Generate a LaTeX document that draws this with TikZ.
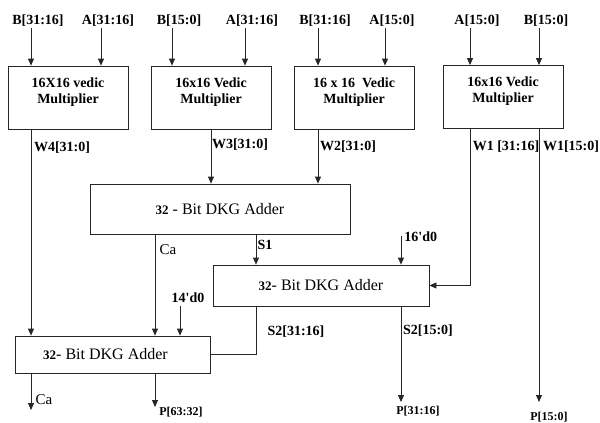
\documentclass[tikz,border=0pt]{standalone}
\usepackage{fontspec}
\setmainfont{Liberation Serif}
\usetikzlibrary{positioning,arrows.meta}

\begin{document}
\begin{tikzpicture}[x=1pt,y=-1pt,line width=0.8pt,
    sig/.style={draw=black!85,-{Triangle[length=7pt,width=6pt]}},
    wire/.style={draw=black!85},
    mult/.style={draw=black!85,minimum width=120pt,minimum height=63pt,align=center,
        font=\bfseries\fontsize{14}{16}\selectfont},
    adder/.style={draw=black!85,font=\fontsize{16}{18}\selectfont},
    lbl/.style={font=\bfseries\fontsize{14}{16}\selectfont,inner sep=1pt},
    olbl/.style={font=\bfseries\fontsize{12}{14}\selectfont,inner sep=1pt},
    clbl/.style={font=\fontsize{15}{17}\selectfont,inner sep=1pt}]
    \useasboundingbox (0,0) rectangle (600,423);

    % Vedic multipliers
    \node[mult] (m4) at (68,97.5) {16X16 vedic\\Multiplier\\[-3pt]};
    \node[mult] (m3) at (211,97.5) {16x16 Vedic\\Multiplier\\[-3pt]};
    \node[mult] (m2) at (354,97.5) {16 x 16\ \ Vedic\\Multiplier\\[-3pt]};
    \node[mult] (m1) at (503,97) {16x16 Vedic\\Multiplier\\[-1pt]};

    % DKG adders
    \node[adder,minimum width=260pt,minimum height=50pt] (add1) at (220,209)
        {{\bfseries\fontsize{13}{15}\selectfont 32} - Bit DKG Adder};
    \node[adder,minimum width=216pt,minimum height=41pt] (add2) at (321,285.5)
        {{\bfseries\fontsize{13}{15}\selectfont 32}- Bit DKG Adder};
    \node[adder,minimum width=195pt,minimum height=37pt] (add3) at (112.5,354.5)
        {{\bfseries\fontsize{13}{15}\selectfont 32}- Bit DKG Adder\hspace*{14pt}};

    % operand inputs
    \foreach \x/\t/\m [count=\i] in {31/B[31:16]/m4, 101/A[31:16]/m4,
        172/B[15:0]/m3, 245/A[31:16]/m3, 318/B[31:16]/m2, 385/A[15:0]/m2,
        470/A[15:0]/m1, 539/B[15:0]/m1} {
        \coordinate (t\i) at (\x,28);
        \node[lbl] (in\i) at (\x+7,21) {\t};
        \draw[sig] (t\i) -- (t\i |- \m.north);
    }

    \coordinate (c1) at (155,250);
    \coordinate (c2) at (256,250);
    \coordinate (c3) at (401,236);
    \coordinate (c4) at (180,306);
    \coordinate (e1) at (31,410);
    \coordinate (e2) at (155,407);
    \coordinate (e3) at (401,402);
    \coordinate (e4) at (539,402);

    % partial products
    \draw[sig] (t1 |- m4.south) -- (t1 |- add3.north);
    \draw[sig] (m3.south) -- (m3.south |- add1.north);
    \draw[sig] (t5 |- m2.south) -- (t5 |- add1.north);
    \draw[sig] (t7 |- m1.south) |- (add2.east);
    \draw[sig] (t8 |- m1.south) -- (e4);

    % adder chain
    \draw[sig] (c1 |- add1.south) -- (c1 |- add3.north);
    \draw[sig] (c2 |- add1.south) -- (c2 |- add2.north);
    \draw[sig] (c3) -- (c3 |- add2.north);
    \draw[sig] (c4) -- (c4 |- add3.north);
    \draw[wire] (c2 |- add2.south) |- (add3.east);
    \draw[sig] (c3 |- add2.south) -- (e3);
    \draw[sig] (t1 |- add3.south) -- (e1);
    \draw[sig] (c1 |- add3.south) -- (e2);

    % signal names
    \node[lbl] (lw4) at (62,148) {W4[31:0]};
    \node[lbl] (lw3) at (240,145) {W3[31:0]};
    \node[lbl] (lw2) at (348,147) {W2[31:0]};
    \node[lbl] (lw1h) at (506,147) {W1 [31:16]};
    \node[lbl] (lw1l) at (571,147) {W1[15:0]};
    \node[clbl] (lca) at (168,250) {Ca};
    \node[lbl] (ls1) at (265,245) {S1};
    \node[lbl,anchor=west] (l16) at (403,237) {16\textquotesingle d0};
    \node[lbl] (l14) at (188,298) {14\textquotesingle d0};
    \node[lbl] (ls2h) at (296,332) {S2[31:16]};
    \node[lbl] (ls2l) at (428,331) {S2[15:0]};
    \node[clbl] (lca2) at (44,400) {Ca};
    \node[olbl] (lp63) at (181,412) {P[63:32]};
    \node[olbl] (lp31) at (418,411) {P[31:16]};
    \node[olbl] (lp15) at (549,417) {P[15:0]};
\end{tikzpicture}
\end{document}
